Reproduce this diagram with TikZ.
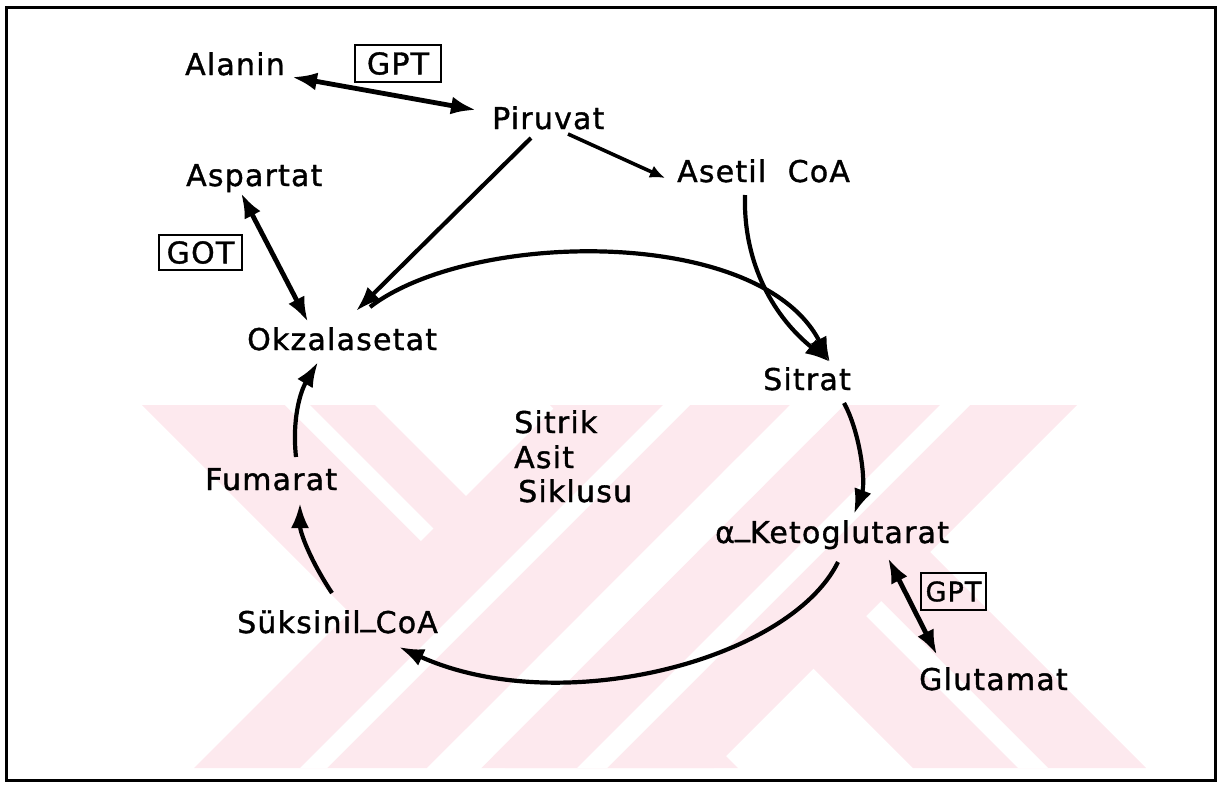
\documentclass[tikz,border=0pt]{standalone}
\usepackage{fontspec}
\setmainfont{DejaVu Sans}
\newfontfamily\labfont[LetterSpace=4,FakeBold=1.2]{DejaVu Sans}
\usetikzlibrary{arrows.meta,calc}
\definecolor{wm}{RGB}{253,233,238}
\begin{document}
\begin{tikzpicture}[x=1pt,y=-1pt,
  lab/.style={anchor=base west, inner sep=0pt, font=\labfont\fontsize{30}{36}\selectfont},
  enz/.style={draw, line width=1.8pt, inner sep=0pt, minimum width=86pt, minimum height=37pt, font=\labfont\fontsize{30}{36}\selectfont},
  tipA/.tip={Latex[length=25pt,width=18pt]},
  conn/.style={line width=4.2pt, -tipA},
  dconn/.style={line width=4.8pt, tipA-tipA},
]
\useasboundingbox (0,0) rectangle (1222,788);
% watermark
\begin{scope}
\clip (100,405) rectangle (1160,768);
\fill[wm] (142,405) -- (375,405) -- (738,768) -- (505,768) -- cycle;
\fill[white] (285,405) -- (310,405) -- (673,768) -- (648,768) -- cycle;
\fill[wm] (550,405) -- (783,405) -- (1146,768) -- (913,768) -- cycle;
\fill[white] (655,405) -- (685,405) -- (1048,768) -- (1018,768) -- cycle;
\fill[wm] (557,405) -- (790,405) -- (427,768) -- (194,768) -- cycle;
\fill[white] (663,405) -- (690,405) -- (327,768) -- (300,768) -- cycle;
\fill[wm] (844,405) -- (1077,405) -- (714,768) -- (481,768) -- cycle;
\fill[white] (940,405) -- (970,405) -- (607,768) -- (577,768) -- cycle;
\fill[white] (790,405) -- (844,405) -- (481,768) -- (427,768) -- cycle;
\end{scope}
% frame
\draw[line width=3pt] (6,7) rectangle (1215,780);
% nodes
\node[lab] (alanin) at (185,75) {Alanin};
\node[enz] (gpt1) at (398,63.5) {GPT};
\node[lab] (piruvat) at (492,129) {Piruvat};
\node[lab] (aspartat) at (186,186) {Aspartat};
\node[lab] (asetil) at (677,182) {Asetil\ \ CoA};
\node[enz, minimum width=83pt, minimum height=35pt] (got) at (200.5,252.5) {GOT};
\node[lab] (okz) at (247,350) {Okzalasetat};
\node[lab] (sitrat) at (763,390) {Sitrat};
\node[lab] (sitrik) at (514,433) {Sitrik};
\node[lab] (asit) at (514,468) {Asit};
\node[lab] (siklusu) at (518,502) {Siklusu};
\node[lab] (fumarat) at (205,490) {Fumarat};
\node[lab] (suks) at (237,633) {Süksinil\raisebox{8pt}{\_}CoA};
\node[lab] (akg) at (715,543) {α\raisebox{8pt}{\_}Ketoglutarat};
\node[enz, minimum width=65pt, minimum height=37pt, font=\labfont\fontsize{27}{32}\selectfont] (gpt2) at (953.5,591.5) {GPT};
\node[lab] (glut) at (919,690) {Glutamat};
% connectors
\draw[dconn] ($(alanin.base west)+(107,2)$) -- ($(piruvat.base west)+(-16,-19)$);
\draw[conn] ($(piruvat.base west)+(39,9)$) -- ($(okz.base west)+(109,-39)$);
\draw[line width=3.6pt, -{Latex[length=15pt,width=13pt]}] ($(piruvat.base west)+(76,5)$) -- ($(asetil.base west)+(-12,-4)$);
\draw[dconn] ($(aspartat.base west)+(55,7)$) -- ($(okz.base west)+(61,-28)$);
\draw[conn] ($(asetil.base west)+(68,13)$) .. controls (743,265) and (775,318) .. ($(sitrat.base west)+(67,-28)$);
\draw[conn] ($(okz.base west)+(123,-43)$) .. controls (470,230) and (760,225) .. ($(sitrat.base west)+(67,-28)$);
\draw[conn] ($(sitrat.base west)+(81,13)$) .. controls (860,432) and (866,482) .. ($(akg.base west)+(139,-29)$);
\draw[conn] ($(akg.base west)+(123,19)$) .. controls (790,660) and (560,720) .. ($(suks.base west)+(162,14)$);
\draw[conn] ($(suks.base west)+(95,-40)$) .. controls (310,560) and (300,532) .. ($(fumarat.base west)+(95,13)$);
\draw[conn] ($(fumarat.base west)+(91,-33)$) .. controls (292,420) and (300,392) .. ($(okz.base west)+(71,12)$);
\draw[dconn] ($(akg.base west)+(173,15)$) -- ($(glut.base west)+(18,-35)$);
\end{tikzpicture}
\end{document}
